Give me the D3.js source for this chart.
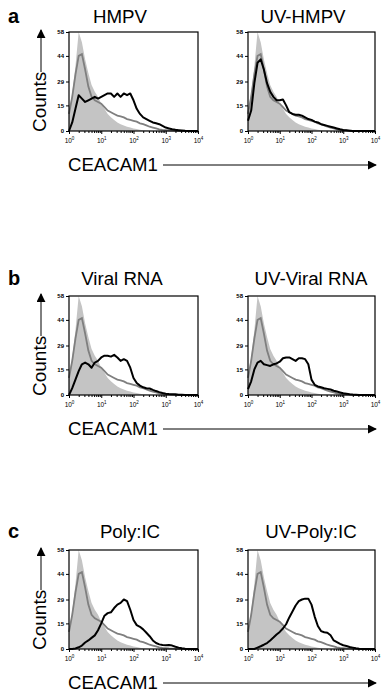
<!DOCTYPE html>
<html>
<head>
<meta charset="utf-8">
<script src="https://cdn.jsdelivr.net/npm/d3@7"></script>
<style>
body { margin: 0; background: #fff; }
svg text { font-family: "Liberation Sans", Arial, sans-serif; }
</style>
</head>
<body>
<svg id="fig" width="386" height="694"></svg>
<script>
// histogram bins, one value every 0.1 decade from 10^0 to 10^4
const binStep = 0.1;
const yTicks = [0, 15, 29, 44, 58];
const xTicks = [1, 10, 100, 1000, 10000];
const panelLetters = ['a', 'b', 'c'];
const panelTitles = [['HMPV', 'UV-HMPV'], ['Viral RNA', 'UV-Viral RNA'], ['Poly:IC', 'UV-Poly:IC']];

// filled grey: isotype control
const isotype = [12, 22, 38, 58, 52, 42, 34, 27, 23, 20,
                 16, 13, 10, 8, 6.5, 5, 4, 3.2, 2.5, 2,
                 1.5, 1.1, 0.8, 0.5, 0.3, 0.2, 0, 0, 0, 0,
                 0, 0, 0, 0, 0, 0, 0, 0, 0, 0, 0];
// grey line: untreated
const mock = [10, 20, 33, 44, 45, 36, 26, 20, 18, 17,
              16, 14, 12, 11, 10, 9, 8.5, 8, 7, 6.5,
              6, 5.5, 4.5, 4, 3.3, 2.5, 2, 1.5, 1, 0.7,
              0.5, 0.3, 0.2, 0.1, 0, 0, 0, 0, 0, 0, 0];
// black lines: stimulated
const hmpv = [0, 5, 13, 21, 19, 17, 18, 19, 20, 19,
              20, 21, 22, 22, 20, 22, 20, 22, 21, 22,
              18, 13, 10, 8, 7, 6, 5, 4.5, 4, 3,
              2, 1.5, 1, 0.7, 0.5, 0.3, 0.1, 0, 0, 0, 0];
const uvHmpv = [6, 12, 28, 40, 42, 36, 28, 23, 20, 18,
                18, 18.5, 15, 11, 10, 9.5, 9.5, 9, 8, 7,
                6.5, 5.5, 5, 4, 3.5, 3, 2.5, 2, 1.5, 1,
                0.6, 0.4, 0.2, 0, 0, 0, 0, 0, 0, 0, 0];
const viralRna = [0, 4, 9, 14, 18, 19, 18, 16, 19, 20,
                  22, 23, 23, 22.5, 23.5, 22, 20, 21, 20, 16,
                  10, 7, 5.5, 4.5, 4, 3.8, 3, 2.3, 1.7, 1.2,
                  0.8, 0.6, 0.5, 0.4, 0.2, 0.1, 0, 0, 0, 0, 0];
const uvViralRna = [3.5, 8, 15, 19, 20, 18, 17.5, 17, 18, 18.5,
                    19.5, 21.5, 22, 22, 21, 20, 21.5, 21.5, 21, 18,
                    9, 6, 5, 4.5, 4, 3.6, 3.2, 2.5, 2, 1.5,
                    1, 0.8, 0.5, 0.3, 0.2, 0, 0, 0, 0, 0, 0];
const polyIC = [0, 0, 0.3, 1, 2, 3.8, 5, 6.5, 8, 11,
                15, 19.5, 21, 21.5, 24, 26, 27, 29, 28, 23,
                17, 14, 13, 11.5, 9.5, 7.5, 5, 3.5, 2.7, 2.3,
                2.2, 2.3, 2, 1.3, 0.8, 0.4, 0.1, 0, 0, 0, 0];
const uvPolyIC = [0, 0, 0, 0.8, 1.6, 2.5, 3.5, 5, 6.7, 8.5,
                  10, 12, 14.5, 18.5, 22, 25.5, 28, 29, 29.5, 29.5,
                  26, 19, 13.5, 10.5, 9.8, 9.5, 8, 5, 4, 3,
                  2.2, 1.8, 1.2, 0.8, 0.4, 0.1, 0, 0, 0, 0, 0];

const stimulated = [[hmpv, uvHmpv], [viralRna, uvViralRna], [polyIC, uvPolyIC]];

class Histogram {
    constructor (config, data) {
        this.config = {
            parent: config.parent,
            left: config.left,
            top: config.top,
            width: config.width || 128,
            height: config.height || 99,
            title: config.title || '',
            titleX: config.titleX,
            titleY: config.titleY
        };
        this.data = data;
        this.init();
    }

    init() {
        let self = this;

        self.chart = self.config.parent.append('g')
            .attr('transform', `translate(${self.config.left}, ${self.config.top})`);

        self.xscale = d3.scaleLog()
            .domain([1, 10000])
            .range([0, self.config.width]);

        self.yscale = d3.scaleLinear()
            .domain([0, 58])
            .range([self.config.height, 0]);

        self.xvalue = (d, i) => Math.pow(10, i * binStep);

        self.config.parent.append('text')
            .style('font-size', '18.7px')
            .attr('x', self.config.titleX)
            .attr('y', self.config.titleY)
            .attr('text-anchor', 'middle')
            .text(self.config.title);
    }

    render() {
        let self = this;
        const w = self.config.width, h = self.config.height;

        const area = d3.area()
            .x((d, i) => self.xscale(self.xvalue(d, i)))
            .y0(h)
            .y1(d => self.yscale(d));

        const line = d3.line()
            .x((d, i) => self.xscale(self.xvalue(d, i)))
            .y(d => self.yscale(d));

        self.chart.append('path')
            .datum(self.data.isotype)
            .attr('d', area)
            .attr('fill', '#c4c4c4');

        self.chart.append('path')
            .datum(self.data.mock)
            .attr('d', line)
            .attr('fill', 'none')
            .attr('stroke', '#7f7f7f')
            .attr('stroke-width', 1.8);

        self.chart.append('path')
            .datum(self.data.stim)
            .attr('d', line)
            .attr('fill', 'none')
            .attr('stroke', '#000')
            .attr('stroke-width', 2)
            .attr('stroke-linejoin', 'round');

        self.chart.append('rect')
            .attr('width', w)
            .attr('height', h)
            .attr('fill', 'none')
            .attr('stroke', '#000')
            .attr('stroke-width', 1.2);

        // y axis
        const yaxis = d3.axisLeft(self.yscale)
            .tickValues(yTicks)
            .tickSize(3)
            .tickPadding(2);
        self.chart.append('g')
            .call(yaxis)
            .call(g => g.select('.domain').remove())
            .selectAll('text')
            .style('font-size', '6px')
            .style('font-weight', 'bold')
            .attr('fill', '#000');

        // x axis: minor ticks then decades
        const minor = [];
        for (let dec = 1; dec < 10000; dec *= 10)
            for (let m = 2; m < 10; m++) minor.push(dec * m);
        self.chart.append('g')
            .attr('transform', `translate(0, ${h})`)
            .call(d3.axisBottom(self.xscale).tickValues(minor).tickSize(2).tickFormat(''))
            .call(g => g.select('.domain').remove());

        const xg = self.chart.append('g')
            .attr('transform', `translate(0, ${h})`)
            .call(d3.axisBottom(self.xscale).tickValues(xTicks).tickSize(3).tickPadding(3).tickFormat(''))
            .call(g => g.select('.domain').remove());

        xg.selectAll('.tick text')
            .style('font-size', '6.5px')
            .attr('fill', '#000')
            .attr('dy', '0.9em')
            .each(function (d) {
                const t = d3.select(this);
                t.append('tspan').text('10');
                t.append('tspan')
                    .attr('dy', -3)
                    .style('font-size', '4.5px')
                    .text(Math.round(Math.log10(d)));
            });
    }
}

const svg = d3.select('#fig');

const rowTops = [32, 296, 550];
const titleDy = [9, 11, 12];
const colLeft = [69, 248];
const colWidth = [129, 127];
const titleX = [[120, 303], [122, 311], [130, 311]];

// arrow head marker
svg.append('defs').append('marker')
    .attr('id', 'head')
    .attr('viewBox', '0 0 10 10')
    .attr('refX', 9)
    .attr('refY', 5)
    .attr('markerWidth', 9)
    .attr('markerHeight', 9)
    .attr('markerUnits', 'userSpaceOnUse')
    .attr('orient', 'auto')
    .append('path')
    .attr('d', 'M0,0 L10,5 L0,10 Z')
    .attr('fill', '#000');

rowTops.forEach((top, r) => {
    const h = 99;

    svg.append('text')
        .style('font-size', '20px')
        .style('font-weight', 'bold')
        .attr('x', 8)
        .attr('y', top - titleDy[r])
        .text(panelLetters[r]);

    colLeft.forEach((left, c) => {
        const chart = new Histogram({
            parent: svg,
            left: left,
            top: top,
            width: colWidth[c],
            height: h,
            title: panelTitles[r][c],
            titleX: titleX[r][c],
            titleY: top - titleDy[r]
        }, { isotype: isotype, mock: mock, stim: stimulated[r][c] });
        chart.render();
    });

    // Counts label with upward arrow
    svg.append('text')
        .style('font-size', '19px')
        .attr('transform', `translate(46, ${top + h + 1}) rotate(-90)`)
        .attr('text-anchor', 'start')
        .text('Counts');
    svg.append('line')
        .attr('x1', 41).attr('x2', 41)
        .attr('y1', top + 40).attr('y2', top - 2)
        .attr('stroke', '#000')
        .attr('stroke-width', 1)
        .attr('marker-end', 'url(#head)');

    // CEACAM1 label with right arrow
    const base = top + h + 40;
    svg.append('text')
        .style('font-size', '18.6px')
        .attr('x', 68)
        .attr('y', base)
        .text('CEACAM1');
    svg.append('line')
        .attr('x1', 163).attr('x2', 376)
        .attr('y1', base - 6).attr('y2', base - 6)
        .attr('stroke', '#000')
        .attr('stroke-width', 1)
        .attr('marker-end', 'url(#head)');
});
</script>
</body>
</html>
